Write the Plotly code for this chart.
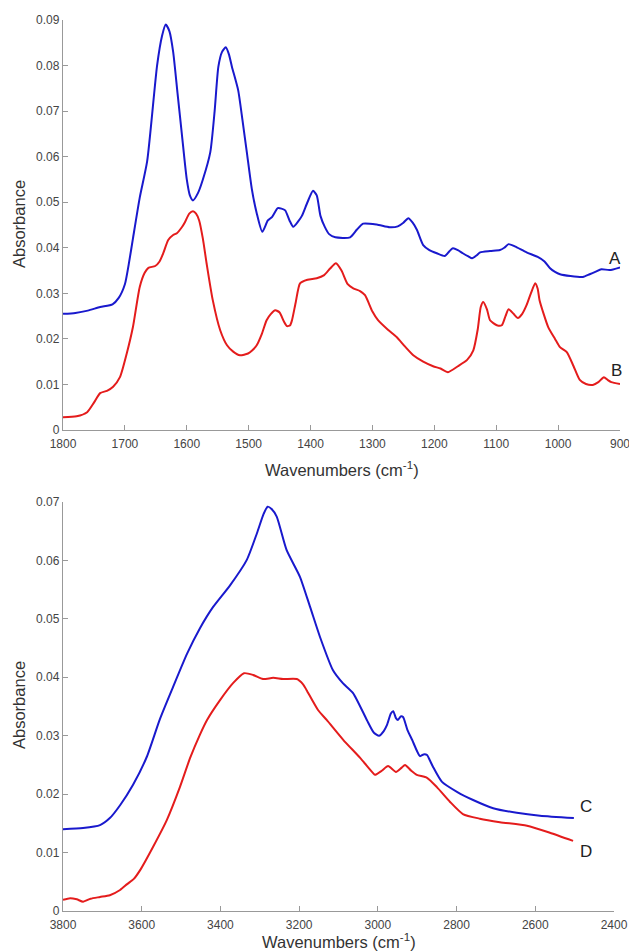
import plotly.graph_objects as go

# ---- Top panel (amide region) ----
wn_A = [1800, 1780, 1760, 1740, 1720, 1710, 1700, 1693, 1687, 1676, 1664, 1648, 1640, 1634, 1628, 1622,
        1615, 1608, 1600, 1595, 1590, 1582, 1574, 1562, 1555, 1549, 1543, 1537, 1532, 1527, 1517, 1510,
        1503, 1495, 1487, 1478, 1469, 1462, 1453, 1447, 1441, 1434, 1428, 1420, 1414, 1405, 1396, 1390,
        1384, 1377, 1370, 1360, 1336, 1325, 1315, 1293, 1272, 1259, 1250, 1242, 1235, 1228, 1218, 1208,
        1196, 1183, 1176, 1170, 1162, 1154, 1145, 1139, 1132, 1126, 1110, 1094, 1087, 1080, 1070, 1051,
        1033, 1022, 1013, 1005, 997, 980, 960, 949, 940, 930, 917, 900]
abs_A = [0.0255, 0.0257, 0.0262, 0.0270, 0.0276, 0.0290, 0.0320, 0.0370, 0.0420, 0.0510, 0.0590, 0.0800,
         0.0865, 0.0890, 0.0875, 0.0830, 0.0740, 0.0650, 0.0550, 0.0515, 0.0504, 0.0520, 0.0550, 0.0610,
         0.0700, 0.0797, 0.0830, 0.0840, 0.0825, 0.0797, 0.0746, 0.0680, 0.0610, 0.0530, 0.0476, 0.0435,
         0.0460, 0.0468, 0.0487, 0.0486, 0.0482, 0.0460, 0.0446, 0.0458, 0.0470, 0.0500, 0.0525, 0.0515,
         0.0470, 0.0446, 0.0430, 0.0423, 0.0423, 0.0440, 0.0453, 0.0451, 0.0445, 0.0447, 0.0455, 0.0465,
         0.0455, 0.0439, 0.0406, 0.0395, 0.0388, 0.0382, 0.0392, 0.0399, 0.0395, 0.0388, 0.0381, 0.0377,
         0.0383, 0.0390, 0.0393, 0.0395, 0.0400, 0.0408, 0.0403, 0.0390, 0.0380, 0.0370, 0.0355, 0.0347,
         0.0342, 0.0338, 0.0336, 0.0342, 0.0347, 0.0353, 0.0351, 0.0357]

wn_B = [1800, 1778, 1761, 1750, 1740, 1729, 1719, 1708, 1697, 1687, 1676, 1668, 1662, 1651, 1644, 1638,
        1630, 1622, 1616, 1608, 1603, 1596, 1590, 1585, 1580, 1574, 1568, 1558, 1546, 1535, 1525, 1514,
        1501, 1494, 1487, 1479, 1471, 1464, 1457, 1450, 1443, 1438, 1433, 1430, 1424, 1417, 1405, 1390,
        1378, 1368, 1359, 1350, 1340, 1331, 1320, 1312, 1300, 1291, 1275, 1261, 1248, 1234, 1218, 1202,
        1190, 1178, 1162, 1147, 1137, 1130, 1125, 1121, 1115, 1110, 1099, 1091, 1085, 1080, 1072, 1065,
        1058, 1051, 1044, 1037, 1033, 1030, 1016, 1005, 997, 986, 975, 965, 955, 944, 935, 926, 920,
        914, 900]
abs_B = [0.0028, 0.0030, 0.0039, 0.0060, 0.0081, 0.0086, 0.0095, 0.0116, 0.0168, 0.0226, 0.0314, 0.0345,
         0.0356, 0.0360, 0.0370, 0.0388, 0.0417, 0.0428, 0.0432, 0.0445, 0.0456, 0.0475, 0.0480, 0.0475,
         0.0460, 0.0420, 0.0366, 0.0285, 0.0219, 0.0186, 0.0172, 0.0164, 0.0168, 0.0175, 0.0186, 0.0210,
         0.0241, 0.0255, 0.0263, 0.0258, 0.0238, 0.0228, 0.0230, 0.0241, 0.0280, 0.0322, 0.0330, 0.0333,
         0.0340, 0.0355, 0.0366, 0.0350, 0.0320, 0.0311, 0.0305, 0.0296, 0.0260, 0.0241, 0.0220, 0.0204,
         0.0184, 0.0164, 0.0150, 0.0140, 0.0135, 0.0127, 0.0140, 0.0154, 0.0175, 0.0220, 0.0270, 0.0281,
         0.0265, 0.0241, 0.0230, 0.0230, 0.0250, 0.0265, 0.0255, 0.0246, 0.0255, 0.0274, 0.0300, 0.0322,
         0.0310, 0.0285, 0.0226, 0.0200, 0.0182, 0.0171, 0.0140, 0.0110, 0.0101, 0.0099, 0.0105, 0.0116,
         0.0110, 0.0105, 0.0101]

# ---- Bottom panel (OH / CH region) ----
wn_C = [3800, 3749, 3706, 3681, 3655, 3622, 3587, 3554, 3520, 3485, 3452, 3419, 3376, 3333, 3307, 3290,
        3280, 3270, 3257, 3232, 3198, 3172, 3147, 3114, 3089, 3063, 3028, 3010, 2997, 2985, 2977, 2967,
        2961, 2954, 2949, 2942, 2936, 2925, 2913, 2893, 2884, 2875, 2868, 2860, 2837, 2799, 2758, 2707,
        2647, 2588, 2502]
abs_C = [0.0140, 0.0142, 0.0147, 0.0159, 0.0181, 0.0216, 0.0264, 0.0328, 0.0384, 0.0440, 0.0484, 0.0520,
         0.0557, 0.0601, 0.0647, 0.0680, 0.0692, 0.0688, 0.0675, 0.0618, 0.0572, 0.0520, 0.0469, 0.0412,
         0.0390, 0.0373, 0.0327, 0.0305, 0.0300, 0.0308, 0.0318, 0.0338, 0.0342, 0.0330, 0.0327, 0.0333,
         0.0332, 0.0310, 0.0293, 0.0265, 0.0268, 0.0267, 0.0258, 0.0247, 0.0221, 0.0204, 0.0190, 0.0176,
         0.0168, 0.0163, 0.0159]

wn_D = [3800, 3782, 3765, 3749, 3730, 3706, 3681, 3655, 3637, 3620, 3604, 3571, 3536, 3503, 3477, 3452,
        3434, 3401, 3368, 3340, 3317, 3292, 3266, 3241, 3206, 3190, 3181, 3152, 3130, 3088, 3045, 3012,
        3007, 2990, 2974, 2954, 2940, 2931, 2915, 2901, 2875, 2850, 2817, 2784, 2741, 2690, 2621, 2563,
        2504]
abs_D = [0.0019, 0.0022, 0.0020, 0.0016, 0.0021, 0.0024, 0.0027, 0.0036, 0.0046, 0.0055, 0.0070, 0.0110,
         0.0156, 0.0212, 0.0262, 0.0302, 0.0327, 0.0361, 0.0390, 0.0407, 0.0404, 0.0397, 0.0399, 0.0397,
         0.0397, 0.0388, 0.0378, 0.0344, 0.0327, 0.0293, 0.0262, 0.0236, 0.0233, 0.0240, 0.0248, 0.0238,
         0.0245, 0.0250, 0.0240, 0.0233, 0.0228, 0.0212, 0.0187, 0.0166, 0.0158, 0.0152, 0.0146, 0.0134,
         0.0120]

x_ticks_top = [1800, 1700, 1600, 1500, 1400, 1300, 1200, 1100, 1000, 900]
y_ticks_top = [0, 0.01, 0.02, 0.03, 0.04, 0.05, 0.06, 0.07, 0.08, 0.09]
x_ticks_bot = [3800, 3600, 3400, 3200, 3000, 2800, 2600, 2400]
y_ticks_bot = [0, 0.01, 0.02, 0.03, 0.04, 0.05, 0.06, 0.07]

def ylab(v):
    return "0" if v == 0 else f"{v:.2f}"

BLUE = "rgb(25,25,205)"
RED = "rgb(228,28,28)"
FONT = "Liberation Sans, Arial, sans-serif"
W, H = 629, 952
L, R, T, B = 63, 9, 20, 41
PW, PH = W - L - R, H - T - B

def px(xp):
    return (xp - L) / PW

def py(yp):
    return (H - B - yp) / PH

fig = go.Figure()
line_kw = dict(width=2, shape="spline", smoothing=0.6)
fig.add_trace(go.Scatter(x=wn_A, y=abs_A, mode="lines", line=dict(color=BLUE, **line_kw), xaxis="x", yaxis="y"))
fig.add_trace(go.Scatter(x=wn_B, y=abs_B, mode="lines", line=dict(color=RED, **line_kw), xaxis="x", yaxis="y"))
fig.add_trace(go.Scatter(x=wn_C, y=abs_C, mode="lines", line=dict(color=BLUE, **line_kw), xaxis="x2", yaxis="y2"))
fig.add_trace(go.Scatter(x=wn_D, y=abs_D, mode="lines", line=dict(color=RED, **line_kw), xaxis="x2", yaxis="y2"))

axis_common = dict(showline=True, linecolor="#999999", linewidth=1.3, ticks="inside", ticklen=5,
                   tickcolor="#999999", showgrid=False, zeroline=False, automargin=False,
                   ticklabeloverflow="allow",
                   tickfont=dict(family=FONT, size=12, color="#444444"))

fig.update_layout(
    width=W, height=H, margin=dict(l=L, r=R, t=T, b=B),
    paper_bgcolor="white", plot_bgcolor="white", showlegend=False,
    xaxis=dict(domain=[0, 1], range=[1800, 900], tickvals=x_ticks_top,
               ticktext=[str(v) for v in x_ticks_top], anchor="y", ticklabelstandoff=2, **axis_common),
    yaxis=dict(domain=[py(430), py(20)], range=[0, 0.09], tickvals=y_ticks_top,
               ticktext=[ylab(v) for v in y_ticks_top], anchor="x", **axis_common),
    xaxis2=dict(domain=[0, px(614)], range=[3800, 2400], tickvals=x_ticks_bot,
                ticktext=[str(v) for v in x_ticks_bot], anchor="y2", ticklabelstandoff=2, **axis_common),
    yaxis2=dict(domain=[py(911), py(502)], range=[0, 0.07], tickvals=y_ticks_bot,
                ticktext=[ylab(v) for v in y_ticks_bot], anchor="x2", **axis_common),
)

title_font = dict(family=FONT, size=16.5, color="#333333")
label_font = dict(family=FONT, size=17, color="#222222")
annots = [
    dict(text="Absorbance", x=px(19), y=py(224), textangle=-90),
    dict(text="Wavenumbers (cm<sup>-1</sup>)", x=px((63 + 620) / 2), y=py(469)),
    dict(text="Absorbance", x=px(19), y=py(705), textangle=-90),
    dict(text="Wavenumbers (cm<sup>-1</sup>)", x=px((63 + 614) / 2), y=py(941)),
]
for a in annots:
    fig.add_annotation(xref="paper", yref="paper", showarrow=False, xanchor="center", yanchor="middle",
                       font=title_font, **a)

for txt, xx, yy, xr, yr in [("A", 908, 0.0377, "x", "y"), ("B", 905, 0.0131, "x", "y"),
                            ("C", 2472, 0.0179, "x2", "y2"), ("D", 2472, 0.0101, "x2", "y2")]:
    fig.add_annotation(x=xx, y=yy, xref=xr, yref=yr, text=txt, showarrow=False,
                       xanchor="center", yanchor="middle", font=label_font)

fig.write_html("out.html")
